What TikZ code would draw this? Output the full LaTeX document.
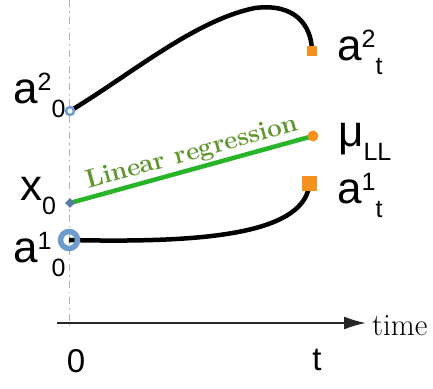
\documentclass[tikz,border=0pt]{standalone}
\usepackage{fontspec}
\newfontfamily\lblfont{Liberation Sans}
\usetikzlibrary{arrows.meta,shapes.geometric}
\definecolor{ringblue}{RGB}{110,155,205}
\definecolor{markorange}{RGB}{245,145,30}
\definecolor{fitgreen}{RGB}{40,180,40}
\definecolor{textgreen}{RGB}{95,150,45}
% big label with a superscript and a subscript after it
\newcommand{\biglbl}[3]{{\fontsize{44}{44}\selectfont #1}%
  \raisebox{13pt}{\fontsize{25}{25}\selectfont #2}%
  \raisebox{-14pt}{\fontsize{25}{25}\selectfont #3}}

\begin{document}
\begin{tikzpicture}[x=1pt,y=-1pt,
    lbl/.style={anchor=base west,inner sep=0pt,font=\lblfont},
    endsq/.style={fill=markorange,inner sep=0pt,minimum size=#1}]
  \useasboundingbox (0,0) rectangle (433,388);
  % time axis
  \draw[gray!60,line width=1pt,dash pattern=on 7pt off 4pt on 1.5pt off 4pt] (69,0) -- (69,325);
  \coordinate (ax0) at (57,323);
  \coordinate (ax1) at (366,323);
  \draw[black!85,line width=1.8pt,-{Latex[length=22pt,width=13pt]}] (ax0) -- (ax1);
  \node[anchor=base west,inner sep=0pt,font=\fontsize{31}{31}\selectfont] (time) at (372,335) {time};
  \node[lbl,font=\lblfont\fontsize{33}{33}\selectfont,anchor=base] (zero) at (76,372) {0};
  \node[lbl,font=\lblfont\fontsize{33}{33}\selectfont,anchor=base] (tend) at (317,370) {t};
  % end points
  \coordinate (a20) at (70,111);
  \coordinate (a10) at (69,240);
  \coordinate (x0) at (70,203);
  \coordinate (a2t) at (312,50);
  \coordinate (mu) at (313,136);
  \coordinate (a1t) at (309,187);
  % trajectories
  \draw[line width=4.5pt] (a20) .. controls (130,75) and (195,20) .. (255,8)
                        .. controls (295,3) and (311,25) .. (a2t);
  \draw[line width=4.5pt] (a10) .. controls (200,243) and (300,235) .. (a1t);
  \draw[fitgreen,line width=4.5pt] (x0) -- node[sloped,above,pos=0.52,inner sep=1.5pt,
      text=textgreen,font=\fontsize{26}{26}\selectfont\bfseries] (fit) {Linear regression} (mu);
  % markers
  \node[circle,draw=ringblue,line width=2.5pt,fill=white,minimum size=8pt,inner sep=0pt] (m20) at (a20) {};
  \node[circle,draw=ringblue,line width=5.5pt,minimum size=17pt,inner sep=0pt] (m10) at (a10) {};
  \node[diamond,fill=ringblue!80!black,minimum size=10pt,inner sep=0pt] (mx0) at (x0) {};
  \node[endsq=10pt] (m2t) at (312,51) {};
  \node[endsq=15pt] (m1t) at (309,183) {};
  \node[circle,fill=markorange,minimum size=11pt,inner sep=0pt] (mmu) at (mu) {};
  % labels
  \node[lbl] (l20) at (13,103) {\biglbl{a}{2}{0}};
  \node[lbl] (lx0) at (20,200) {\biglbl{x}{}{0}};
  \node[lbl] (l10) at (13,262) {\biglbl{a}{1}{0}};
  \node[lbl] (l2t) at (337,60) {\biglbl{a}{2}{t}};
  \node[lbl] (lmu) at (338,146) {\biglbl{μ}{}{LL}};
  \node[lbl] (l1t) at (337,203) {\biglbl{a}{1}{t}};
\end{tikzpicture}
\end{document}
